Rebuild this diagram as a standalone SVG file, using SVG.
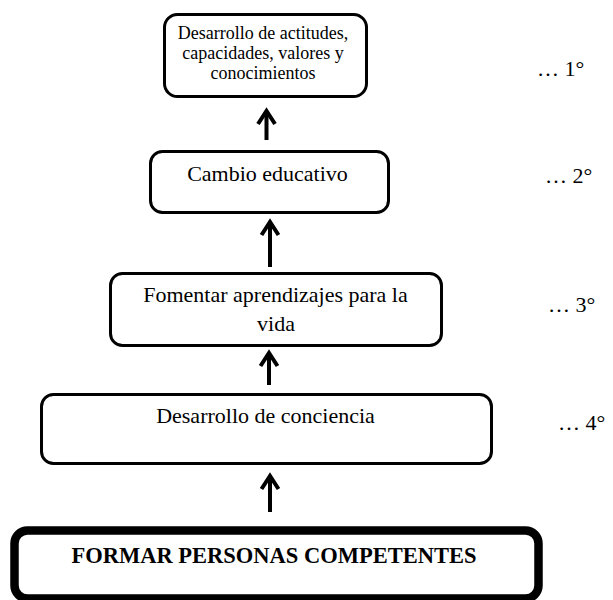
<svg xmlns="http://www.w3.org/2000/svg" width="613" height="600" viewBox="0 0 613 600">
<style>
  .box { fill: #ffffff; stroke: #000000; stroke-width: 3; }
  .thick { fill: #ffffff; stroke: #000000; stroke-width: 8.5; }
  .t { font-family: "Liberation Serif", "Times New Roman", serif; font-size: 22px; fill: #000000; text-anchor: middle; }
  .small { font-size: 18px; }
  .bold { font-weight: bold; font-size: 22.5px; }
  .lvl { font-family: "Liberation Serif", "Times New Roman", serif; font-size: 22px; fill: #000000; }
  .arr { stroke: #000000; stroke-width: 4; fill: none; marker-end: url(#head); }
</style>
<defs>
  <marker id="head" markerUnits="userSpaceOnUse" markerWidth="30" markerHeight="30" refX="0" refY="0" orient="auto" overflow="visible">
    <path d="M-13,-8.5 L0,0 L-13,8.5" fill="none" stroke="#000000" stroke-width="4" stroke-linejoin="miter" stroke-linecap="butt"/>
  </marker>
</defs>
<rect width="613" height="600" fill="#ffffff"/>

<g id="node1">
  <rect class="box" x="164.5" y="14.5" width="202" height="82" rx="13"/>
  <text class="t small" x="263" y="39">Desarrollo de actitudes,</text>
  <text class="t small" x="263" y="59">capacidades, valores y</text>
  <text class="t small" x="263" y="79">conocimientos</text>
</g>

<g id="node2">
  <rect class="box" x="150.5" y="151.5" width="238" height="61" rx="12"/>
  <text class="t" x="267.5" y="181">Cambio educativo</text>
</g>

<g id="node3">
  <rect class="box" x="110.5" y="273.5" width="331" height="72" rx="12"/>
  <text class="t" x="275.5" y="302">Fomentar aprendizajes para la</text>
  <text class="t" x="276" y="331">vida</text>
</g>

<g id="node4">
  <rect class="box" x="41.5" y="394.5" width="450" height="69" rx="12"/>
  <text class="t" x="265.5" y="423">Desarrollo de conciencia</text>
</g>

<g id="node5">
  <rect class="thick" x="14.5" y="530.5" width="524" height="68" rx="13"/>
  <text class="t bold" x="274" y="563">FORMAR PERSONAS COMPETENTES</text>
</g>

<g id="levels">
  <text class="lvl" x="537" y="76">… 1°</text>
  <text class="lvl" x="545" y="183">… 2°</text>
  <text class="lvl" x="548" y="312">… 3°</text>
  <text class="lvl" x="558" y="430">… 4°</text>
</g>

<g id="connectors">
  <line class="arr" x1="266.5" y1="140" x2="266.5" y2="111"/>
  <line class="arr" x1="270" y1="267" x2="270" y2="222"/>
  <line class="arr" x1="269" y1="385" x2="269" y2="353"/>
  <line class="arr" x1="270" y1="512" x2="270" y2="476"/>
</g>
</svg>
